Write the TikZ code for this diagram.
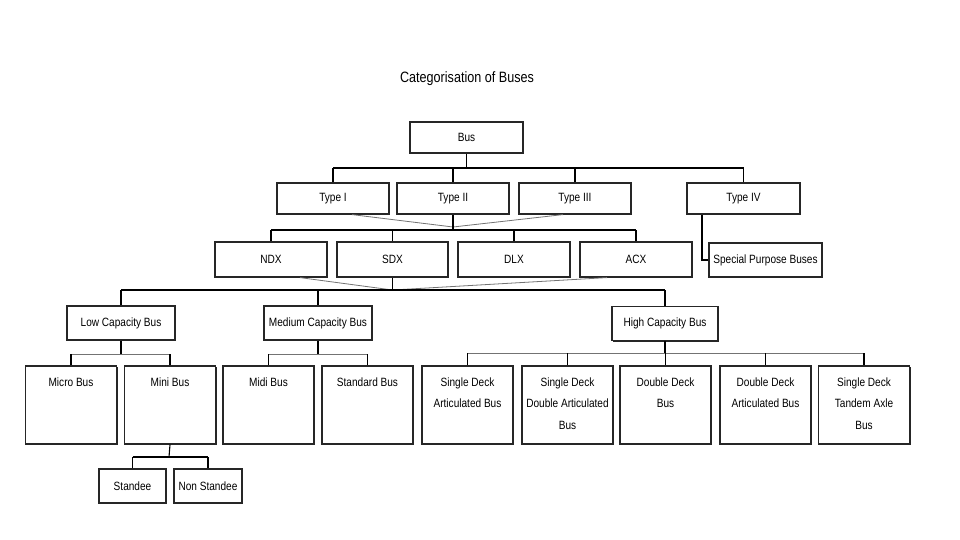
\documentclass[tikz,border=0pt]{standalone}
\usepackage{fontspec}
\setmainfont[FakeStretch=0.84]{Liberation Sans}
\usetikzlibrary{shadows}
\begin{document}
\begin{tikzpicture}[x=1pt,y=-1pt,
  box/.style={draw=black!85,line width=1.2pt,fill=white,inner sep=0pt,
    drop shadow={shadow xshift=1pt,shadow yshift=-1pt,opacity=1,fill=black!85},
    font=\fontsize{12}{21}\selectfont,align=center},
  tall/.style={box,minimum width=91pt,minimum height=78pt},
  lbl/.style={anchor=north,inner sep=0pt,font=\fontsize{12}{21.5}\selectfont,align=center},
  ln/.style={line width=1.1pt,black},
  thin/.style={line width=0.8pt,black!55}]
\useasboundingbox[fill=white] (0,0) rectangle (960,540);
\node[font=\fontsize{15}{18}\selectfont] (title) at (467,79) {Categorisation of Buses};
% level 0
\node[box,minimum width=113pt,minimum height=31pt] (bus) at (466.5,137.5) {Bus};
% level 1
\node[box,minimum width=112pt,minimum height=31pt] (t1) at (333,198.5) {Type I};
\node[box,minimum width=112pt,minimum height=31pt] (t2) at (453,198.5) {Type II};
\node[box,minimum width=112pt,minimum height=31pt] (t3) at (575,198.5) {Type III};
\node[box,minimum width=113pt,minimum height=31pt] (t4) at (743.5,198.5) {Type IV};
% level 2
\node[box,minimum width=112pt,minimum height=35pt] (ndx) at (271,259.5) {NDX};
\node[box,minimum width=111pt,minimum height=35pt] (sdx) at (392.5,259.5) {SDX};
\node[box,minimum width=112pt,minimum height=35pt] (dlx) at (514,259.5) {DLX};
\node[box,minimum width=112pt,minimum height=35pt] (acx) at (636,259.5) {ACX};
\node[box,minimum width=113pt,minimum height=34pt] (spb) at (765.5,260) {Special Purpose Buses};
% level 3
\node[box,minimum width=108pt,minimum height=34pt] (low) at (121,323) {Low Capacity Bus};
\node[box,minimum width=108pt,minimum height=34pt] (med) at (318,323) {Medium Capacity Bus};
\node[box,minimum width=106pt,minimum height=34pt] (high) at (665,323.5) {High Capacity Bus};
% level 4
\node[tall] (micro) at (71,405) {};
\node[tall] (mini) at (170,405) {};
\node[tall] (midi) at (268.5,405) {};
\node[tall] (std) at (367.5,405) {};
\node[tall] (sda) at (467.5,405) {};
\node[tall] (sdda) at (567.5,405) {};
\node[tall] (ddb) at (665.5,405) {};
\node[tall] (dda) at (765.5,405) {};
\node[tall] (sdta) at (864,405) {};
\node[lbl] (microt) at ([yshift=-12pt]micro.north) {Micro Bus};
\node[lbl] (minit) at ([yshift=-12pt]mini.north) {Mini Bus};
\node[lbl] (midit) at ([yshift=-12pt]midi.north) {Midi Bus};
\node[lbl] (stdt) at ([yshift=-12pt]std.north) {Standard Bus};
\node[lbl] (sdat) at ([yshift=-12pt]sda.north) {Single Deck\\Articulated Bus};
\node[lbl] (sddat) at ([yshift=-12pt]sdda.north) {Single Deck\\Double Articulated\\Bus};
\node[lbl] (ddbt) at ([yshift=-12pt]ddb.north) {Double Deck\\Bus};
\node[lbl] (ddat) at ([yshift=-12pt]dda.north) {Double Deck\\Articulated Bus};
\node[lbl] (sdtat) at ([yshift=-12pt]sdta.north) {Single Deck\\Tandem Axle\\Bus};
% level 5
\node[box,minimum width=67pt,minimum height=34pt] (standee) at (132.5,486) {Standee};
\node[box,minimum width=68pt,minimum height=34pt] (nonst) at (208,486) {Non Standee};
% junction coordinates
\coordinate (j1) at (466.5,168);
\coordinate (c1) at (453,227);
\coordinate (h1) at (453,230);
\coordinate (c2) at (392.5,290);
\coordinate (jl) at (121,354);
\coordinate (jm) at (318,354);
\coordinate (jh) at (665,353);
\coordinate (jn) at (169,457);
% Bus -> types
\draw[ln] (bus.south) -- (j1);
\draw[ln] (t1.north |- j1) -- (t4.north |- j1);
\foreach \n in {t1,t2,t3,t4} \draw[ln] (\n.north) -- (\n.north |- j1);
% types -> converge
\draw[thin] ([xshift=19pt]t1.south) -- (c1) -- ([xshift=-12pt]t3.south);
\draw[ln] (t2.south) -- (h1);
\draw[ln] (ndx.north |- h1) -- (acx.north |- h1);
\foreach \n in {ndx,sdx,dlx,acx} \draw[ln] (\n.north) -- (\n.north |- h1);
% type IV -> special purpose
\draw[ln] ([xshift=-41.5pt]t4.south) |- (spb.west);
% NDX..ACX converge
\draw[thin] ([xshift=29pt]ndx.south) -- (c2) -- ([xshift=-29pt]acx.south);
\draw[ln] (sdx.south) -- (c2);
\draw[ln] (low.north |- c2) -- (high.north |- c2);
\foreach \n in {low,med,high} \draw[ln] (\n.north) -- (\n.north |- c2);
% low -> micro, mini
\draw[ln] (low.south) -- (jl);
\draw[thin] (micro.north |- jl) -- (mini.north |- jl);
\foreach \n in {micro,mini} \draw[ln] (\n.north) -- (\n.north |- jl);
% medium -> midi, standard
\draw[ln] (med.south) -- (jm);
\draw[thin] (midi.north |- jm) -- (std.north |- jm);
\foreach \n in {midi,std} \draw[ln] (\n.north) -- (\n.north |- jm);
% high -> five
\draw[ln] (high.south) -- (jh);
\draw[thin] (sda.north |- jh) -- (sdta.north |- jh);
\foreach \n in {sda,sdda,ddb,dda,sdta} \draw[ln] (\n.north) -- (\n.north |- jh);
% mini -> standee, non standee
\draw[ln] (mini.south) -- (jn);
\draw[ln,line width=1.8pt] (standee.north |- jn) -- (nonst.north |- jn);
\foreach \n in {standee,nonst} \draw[ln] (\n.north) -- (\n.north |- jn);
\end{tikzpicture}
\end{document}
